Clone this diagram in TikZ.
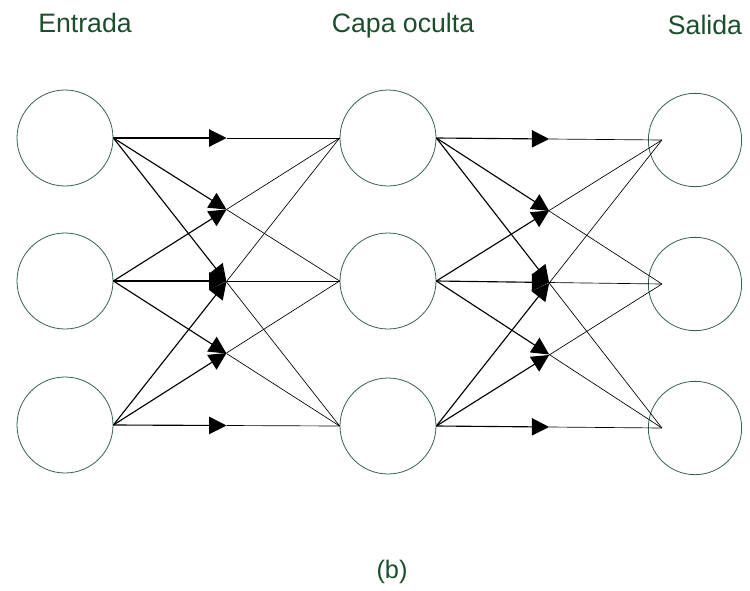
\documentclass[tikz,border=0pt]{standalone}
\usepackage{fontspec}
\setmainfont{Liberation Sans}
\usetikzlibrary{arrows.meta,calc}
\definecolor{neuron}{RGB}{55,95,75}
\definecolor{caption}{RGB}{28,78,45}
\tikzset {
    neuron node/.style={
        circle,
        draw=neuron,
        line width=0.6pt,
        minimum size=72pt,
        inner sep=0pt,
    },
    label node/.style={
        anchor=base,
        text=caption,
        font=\fontsize{20}{24}\selectfont,
    },
    first half/.style={
        draw=black,
        line width=0.85pt,
        -{Triangle[length=13pt,width=13pt]},
    },
    second half/.style={
        draw=black,
        line width=0.5pt,
    },
}
\newcommand{\halfconn}[2]{%
\draw[first half] (#1) -- ($(#1)!0.5!(#2)$);
\draw[second half] ($(#1)!0.5!(#2)$) -- (#2);
}

\begin{document}
\begin{tikzpicture}[x=0.75pt, y=-0.75pt]
\useasboundingbox (0,0) rectangle (750,590);

\node[label node] at (85,32) (entrada) {Entrada};
\node[label node] at (403,32) (oculta) {Capa oculta};
\node[label node] at (705,34) (salida) {Salida};
\node[label node, font=\fontsize{19}{22}\selectfont] at (392,578) (b) {(b)};

\node[neuron node] at (65,138) (in1) {};
\node[neuron node] at (65,281) (in2) {};
\node[neuron node] at (65,425) (in3) {};
\node[neuron node] at (388,138) (hid1) {};
\node[neuron node] at (388,281) (hid2) {};
\node[neuron node] at (388,426) (hid3) {};
\node[neuron node, minimum size=70pt] at (695,140) (out1) {};
\node[neuron node, minimum size=70pt] at (695,284) (out2) {};
\node[neuron node, minimum size=70pt] at (695,428) (out3) {};

% end points inside the output circles
\foreach \i in {1,2,3}
  \coordinate (tip\i) at ([xshift=10.5pt]out\i.west);

\foreach \i in {1,2,3}
  \foreach \j in {1,2,3} {
    \halfconn{in\i.east}{hid\j.west}
    \halfconn{hid\i.east}{tip\j}
  }
\end{tikzpicture}
\end{document}
